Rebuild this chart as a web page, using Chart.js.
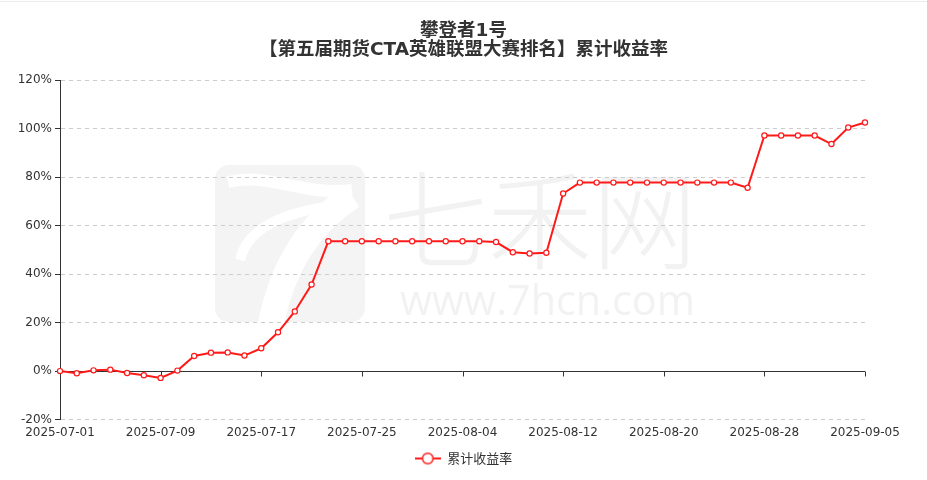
<!DOCTYPE html>
<html>
<head>
<meta charset="utf-8">
<script src="https://cdn.jsdelivr.net/npm/chart.js@4.4.1/dist/chart.umd.min.js"></script>
<style>
  html, body { margin: 0; padding: 0; background: #fff; }
  #wrap { width: 927px; height: 480px; }
</style>
</head>
<body>
<div id="wrap"><canvas id="myChart" width="927" height="480"></canvas></div>
<script>
// trading days
var dates = [
  "2025-07-01", "2025-07-02", "2025-07-03", "2025-07-04", "2025-07-07", "2025-07-08", "2025-07-09",
  "2025-07-10", "2025-07-11", "2025-07-14", "2025-07-15", "2025-07-16", "2025-07-17", "2025-07-18",
  "2025-07-21", "2025-07-22", "2025-07-23", "2025-07-24", "2025-07-25", "2025-07-28", "2025-07-29",
  "2025-07-30", "2025-07-31", "2025-08-01", "2025-08-04", "2025-08-05", "2025-08-06", "2025-08-07",
  "2025-08-08", "2025-08-11", "2025-08-12", "2025-08-13", "2025-08-14", "2025-08-15", "2025-08-18",
  "2025-08-19", "2025-08-20", "2025-08-21", "2025-08-22", "2025-08-25", "2025-08-26", "2025-08-27",
  "2025-08-28", "2025-08-29", "2025-09-01", "2025-09-02", "2025-09-03", "2025-09-04", "2025-09-05"
];

// 累计收益率 (%)
var returns = [
  0, -0.9, 0.3, 0.6, -0.8, -1.7, -2.8,
  0.2, 6.2, 7.6, 7.7, 6.4, 9.4, 16.0,
  24.6, 35.7, 53.5, 53.5, 53.5, 53.5, 53.5,
  53.5, 53.5, 53.5, 53.5, 53.5, 53.2, 49.0,
  48.5, 48.8, 73.2, 77.7, 77.7, 77.7, 77.7,
  77.7, 77.7, 77.7, 77.7, 77.7, 77.7, 75.6,
  97.1, 97.1, 97.1, 97.1, 93.6, 100.4, 102.5
];

var shownDates = ["2025-07-01", "2025-07-09", "2025-07-17", "2025-07-25", "2025-08-04",
  "2025-08-12", "2025-08-20", "2025-08-28", "2025-09-05"];
var yTicks = [-20, 0, 20, 40, 60, 80, 100, 120];

var titleLines = ["攀登者1号", "【第五届期货CTA英雄联盟大赛排名】累计收益率"];
var seriesName = "累计收益率";

var lineColor = "#ff1a1a";
var fontFamily = "'DejaVu Sans', 'Noto Sans CJK SC', sans-serif";
var cjkFamily = "'Noto Sans CJK SC', sans-serif";

// legend icon: line with hollow circle
var legendIcon = document.createElement("canvas");
legendIcon.width = 26;
legendIcon.height = 14;
(function () {
  var c = legendIcon.getContext("2d");
  c.strokeStyle = lineColor;
  c.lineWidth = 2;
  c.beginPath();
  c.moveTo(0, 7);
  c.lineTo(26, 7);
  c.stroke();
  c.beginPath();
  c.arc(13, 7, 5.3, 0, Math.PI * 2);
  c.fillStyle = "#fff";
  c.fill();
  c.lineWidth = 1.5;
  c.stroke();
})();

// faint site watermark behind the plot
const watermark = {
  id: "watermark",
  beforeDraw(chart) {
    const ctx = chart.ctx;
    ctx.save();
    ctx.strokeStyle = "#ececec";
    ctx.lineWidth = 1;
    ctx.beginPath();
    ctx.moveTo(0, 1.5);
    ctx.lineTo(chart.width, 1.5);
    ctx.stroke();

    // logo block
    ctx.fillStyle = "#f4f4f4";
    ctx.beginPath();
    ctx.roundRect(215, 165, 150, 157, 14);
    ctx.fill();
    ctx.save();
    ctx.clip();
    ctx.strokeStyle = "#fff";
    ctx.lineCap = "butt";
    ctx.lineWidth = 12;
    ctx.beginPath();
    ctx.moveTo(228, 182);
    ctx.bezierCurveTo(270, 172, 300, 196, 352, 190);
    ctx.stroke();
    ctx.lineWidth = 26;
    ctx.beginPath();
    ctx.moveTo(352, 196);
    ctx.quadraticCurveTo(285, 240, 270, 330);
    ctx.stroke();
    ctx.lineWidth = 10;
    ctx.beginPath();
    ctx.moveTo(240, 260);
    ctx.quadraticCurveTo(250, 215, 340, 205);
    ctx.stroke();
    ctx.restore();

    ctx.fillStyle = "#f2f2f2";
    ctx.textAlign = "left";
    ctx.textBaseline = "middle";
    ctx.font = "300 108px " + cjkFamily;
    var w1 = ctx.measureText("七禾网").width;
    ctx.save();
    ctx.translate(383, 220);
    ctx.scale(314 / w1, 1);
    ctx.fillText("七禾网", 0, 0);
    ctx.restore();

    ctx.font = "42px 'Open Sans', sans-serif";
    var w2 = ctx.measureText("www.7hcn.com").width;
    ctx.save();
    ctx.translate(400, 303);
    ctx.scale(295 / w2, 1);
    ctx.fillText("www.7hcn.com", 0, 0);
    ctx.restore();
    ctx.restore();
  },
};

// x axis line sits on the zero value, with small ticks under it
const zeroAxis = {
  id: "zeroAxis",
  beforeDatasetsDraw(chart) {
    const { ctx, chartArea, scales } = chart;
    const y0 = Math.round(scales.y.getPixelForValue(0)) + 0.5;
    ctx.save();
    ctx.strokeStyle = "#333";
    ctx.lineWidth = 1;
    ctx.beginPath();
    ctx.moveTo(chartArea.left, y0);
    ctx.lineTo(chartArea.right, y0);
    dates.forEach(function (d, i) {
      if (shownDates.indexOf(d) < 0) return;
      const px = Math.round(scales.x.getPixelForValue(i)) + 0.5;
      ctx.moveTo(px, y0);
      ctx.lineTo(px, y0 + 5);
    });
    ctx.stroke();
    ctx.restore();
  },
};

const ctx = document.getElementById("myChart");
new Chart(ctx, {
  type: "line",
  data: {
    labels: dates,
    datasets: [
      {
        label: seriesName,
        data: returns,
        borderColor: lineColor,
        borderWidth: 2,
        backgroundColor: "#fff",
        pointBackgroundColor: "#fff",
        pointBorderColor: lineColor,
        pointBorderWidth: 1.2,
        pointRadius: 2.6,
        tension: 0,
        fill: false,
      },
    ],
  },
  options: {
    responsive: false,
    animation: false,
    layout: {
      padding: { left: 0, right: 0, top: 0, bottom: 5 },
    },
    plugins: {
      title: {
        display: true,
        text: titleLines,
        color: "#333",
        font: { family: fontFamily, size: 18.5, weight: "bold", lineHeight: 1.0 },
        padding: { top: 22, bottom: 21 },
      },
      legend: {
        position: "bottom",
        labels: {
          usePointStyle: true,
          pointStyle: legendIcon,
          pointStyleWidth: 26,
          color: "#333",
          font: { family: cjkFamily, size: 13 },
          padding: 6,
        },
      },
      tooltip: { enabled: false },
    },
    scales: {
      x: {
        type: "category",
        offset: false,
        grid: { display: false, drawTicks: false },
        border: { display: false },
        ticks: {
          autoSkip: false,
          maxRotation: 0,
          padding: 6,
          color: "#333",
          font: { family: fontFamily, size: 12 },
          callback: function (value, index) {
            var d = dates[index];
            return shownDates.indexOf(d) >= 0 ? d : "";
          },
        },
      },
      y: {
        min: -20,
        max: 120,
        afterBuildTicks: function (scale) {
          scale.ticks = yTicks.map(function (v) { return { value: v }; });
        },
        afterFit: function (scale) {
          scale.width = 60;
        },
        grid: {
          color: function (c) {
            return c.tick && c.tick.value === 0 ? "rgba(0,0,0,0)" : "#cccccc";
          },
          tickColor: "#333",
          tickLength: 5,
          tickBorderDash: [],
        },
        border: { display: true, color: "#333", dash: [4, 4] },
        ticks: {
          padding: 3,
          color: "#333",
          font: { family: fontFamily, size: 12 },
          callback: function (v) {
            return v + "%";
          },
        },
      },
      // empty right-hand gutter so the plot ends where the reference does
      gutter: {
        type: "linear",
        position: "right",
        min: 0,
        max: 1,
        grid: { display: false, drawTicks: false },
        border: { display: false },
        ticks: { display: false },
        afterFit: function (scale) {
          scale.width = 62;
        },
      },
    },
  },
  plugins: [watermark, zeroAxis],
});
</script>
</body>
</html>
